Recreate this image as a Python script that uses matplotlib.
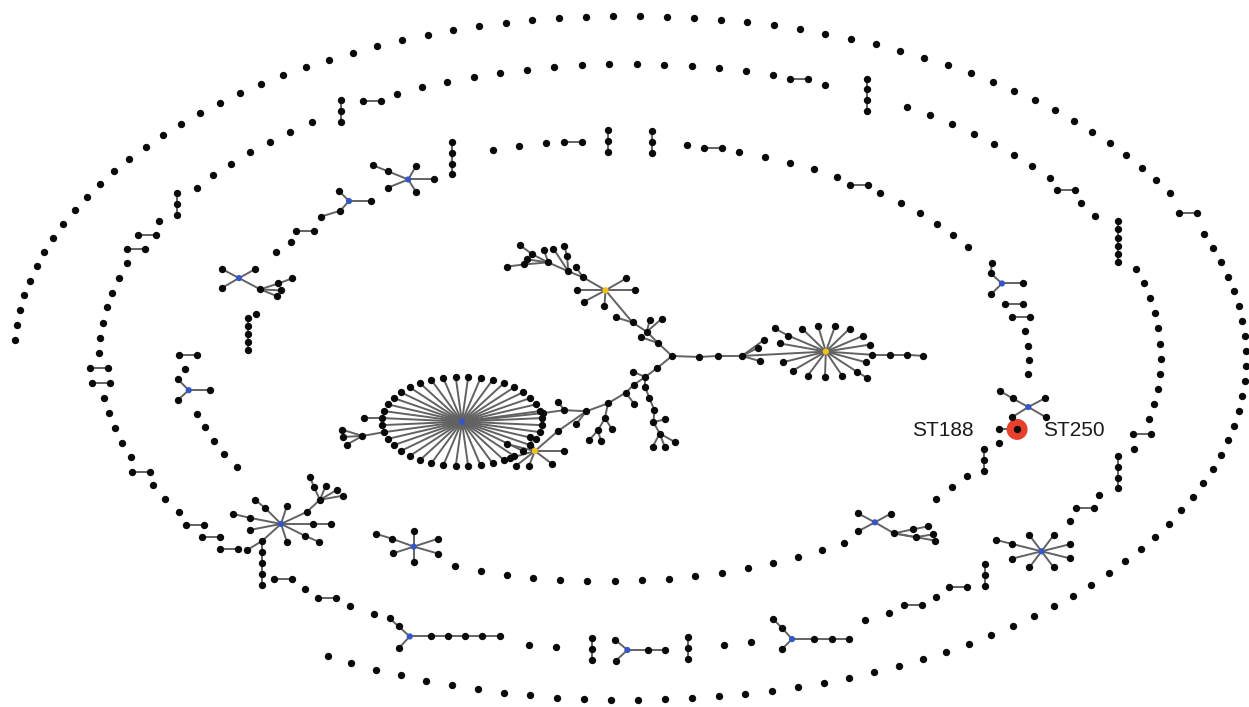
import numpy as np
import matplotlib
matplotlib.use("Agg")
import matplotlib.pyplot as plt
from matplotlib.collections import LineCollection
from matplotlib.patches import Circle

# ---------------------------------------------------------------- data
# Clonal components in clockwise order around each ring.
#   s  = singleton ST          h  = linked pair      hh = linked pair (wide slot)
#   v3..v6 = vertical chain    gap = empty slot      st = highlighted pair
#   si / v5i = component pulled towards the centre
#   other codes = star-shaped complexes (see STAR_SHAPES)
OUTER_RING = ["s"] * 60 + ["hh"] + ["s"] * 57

MIDDLE_RING = (["s"] * 7 + ["h", "h", "s", "v3"] + ["s"] * 7 + ["v3", "h"]
               + ["s"] * 15 + ["h", "s", "v4"] + ["s"] * 8 + ["h", "s", "s", "v6"]
               + ["s"] * 11
               + ["h", "s", "v4", "s", "h", "s", "M1", "v3", "h", "s", "h", "s", "s",
                  "M2", "s", "s", "v3", "M3", "v3", "s", "s", "M4", "s", "s", "h",
                  "s", "h", "gap", "h", "h", "h", "s", "s", "s", "h"]
               + ["s"] * 5 + ["h", "h"])

INNER_RING = (["h", "v5i", "si", "C", "s", "s", "h", "B", "A", "v4", "s", "s", "s",
               "h", "v3", "v3", "s", "h"]
              + ["s"] * 5 + ["h"] + ["s"] * 6 + ["I", "h", "h"] + ["s"] * 4
              + ["HB", "st", "s", "v3", "s", "s", "s", "G"] + ["s"] * 16
              + ["F", "E"] + ["s"] * 5 + ["D", "s"])

PAIR_LABELS = ["ST188", "ST250"]
BIG_HUB_SPOKES = 40

# ---------------------------------------------------------------- layout
RINGS = [
    (OUTER_RING, dict(cx=630, cy=358, a=616, b=342, start=177.0, end=-119.4, closed=False)),
    (MIDDLE_RING, dict(cx=630, cy=357, a=531, b=293, start=179.2, closed=True)),
    (INNER_RING, dict(cx=607, cy=361, a=422, b=220, start=178.4, closed=True,
                      dent=(145.0, 22.0, 0.075))),
]

SLOT = {"s": 1.0, "si": 1.0, "h": 1.0, "hh": 2.0, "v3": 1.6, "v4": 2.3,
        "v5i": 2.5, "v6": 2.8, "gap": 1.8, "st": 1.0}
RADIAL = {"si": 0.86, "v5i": 0.86}
CHAIN = {"v3": (3, 11.0), "v4": (4, 10.8), "v5i": (5, 8.0), "v6": (6, 8.2)}

# arms: (direction in degrees, length in px[, sub-arms])
STAR_SHAPES = {
    "M1": dict(span=(1.7, 1.7), r=1.02, arms=[(166, 30, [(166, 16.5)]), (127, 20), (53, 20), (14, 29),
                                               (-14, 29), (-53, 20), (-127, 20), (-166, 30)]),
    "M2": dict(span=(2.4, 1.0), r=1.01, arms=[(132, 15, [(135, 13)]), (-135, 14),
                                               (0, 22, [(0, 18, [(0, 17)])])]),
    "M3": dict(span=(1.4, 0.5), r=1.0, arms=[(140, 15.6), (-137, 16), (0, 21, [(0, 17)])]),
    "M4": dict(span=(3.7, 1.3), r=1.04, arms=[(138, 15, [(138, 12)]), (-133, 16),
                                               (0, 21, [(0, 17, [(0, 17, [(0, 17, [(0, 18)])])])])]),
    "C": dict(span=(1.9, 1.9), r=0.95, arms=[(152, 19), (29, 18), (-150, 20),
                                             (-28, 24, [(18, 19, [(20, 15)]), (-3, 21), (-22, 18)])]),
    "B": dict(span=(2.3, 1.0), r=0.95, arms=[(135, 14), (0, 22), (-132, 13, [(197, 20)])]),
    "A": dict(span=(1.8, 1.0), r=0.95, arms=[(158, 21.5, [(158, 16)]), (60, 16), (0, 26),
                                             (-158, 21.5), (-58, 15)]),
    "I": dict(span=(2.35, 1.0), r=1.0, arms=[(138, 15, [(84, 10)]), (0, 21), (-135, 15)]),
    "HB": dict(span=(1.8, 1.2), r=1.02, arms=[(151, 18, [(150, 14)]), (28, 19), (-30, 20), (-148, 19)]),
    "G": dict(span=(2.3, 1.3), r=0.97, arms=[(152, 19), (29, 18), (-152, 19),
                                             (-30, 22, [(12, 19, [(11, 16)]), (-10, 22, [(9, 18)]),
                                                        (-10, 42)])]),
    "F": dict(span=(1.5, 1.5), r=0.96, arms=[(160, 23, [(163, 17)]), (90, 16), (18, 26),
                                             (-162, 22), (-90, 15), (-16, 25)]),
    "E": dict(span=(3.3, 3.6), r=1.07, arms=[(135, 22.6, [(141, 13)]), (169, 31.6, [(167, 17.5)]),
                                             (-169, 31.6), (72, 19), (-72, 19), (0, 32, [(0, 18)]),
                                             (-26.6, 27, [(-23, 15)]),
                                             (25, 28.6, [(43, 17.7, [(115, 14, [(112, 11)]), (67, 15),
                                                                     (30, 20), (10, 23)])]),
                                             (-138, 25.5, [(-149, 17.5),
                                                           (-90, 11, [(-90, 11, [(-90, 11, [(-90, 11)])])])])]),
    "D": dict(span=(1.2, 1.0), r=1.0, arms=[(135, 15.6), (-138, 15), (0, 21)]),
}

# central minimum-spanning tree: (node, parent, direction, length, kind)
CENTRAL_ANCHOR = (672, 356)
CENTRAL_TREE = [
    ("J", None, 0, 0, "n"),
    ("r1", "J", -2, 27, "n"), ("r2", "r1", 3, 19, "n"), ("r3", "r2", 0, 24, "n"),
    ("H3", "r3", 3, 84, "y"),
    ("a1", "J", 137, 19, "n"), ("a2", "a1", 135, 16, "n"), ("a3", "a2", 147, 17, "n"),
    ("H2", "a3", 130, 42, "y"),
    ("p0", "J", -141, 19, "n"), ("p1", "p0", -143, 15, "n"), ("p2", "p1", -146, 14, "n"),
    ("p3", "p2", -135, 11, "n"), ("c3", "p3", -149, 21, "n"), ("c4", "c3", -160, 23, "n"),
    ("c5", "c4", 177, 22, "n"), ("c6", "c5", -172, 21, "n"),
    ("BIG", "c6", -174, 82, "b"),
    ("d1", "c4", -145, 35, "n"), ("H1", "d1", -139, 30, "y"),
]
CENTRAL_ARMS = {
    "r3": [(27, 18), (36, 27), (-16, 19)],
    "H3": [(157, 41, [(152, 15)]), (136, 33), (107, 27), (70, 27), (44, 33), (23, 40), (9, 45),
           (-4, 46, [(0, 18, [(0, 17, [(-4, 16)])])]), (-15, 42), (-33, 37, [(-31, 12)]),
           (-56, 29), (-92, 25), (-127, 30), (-150, 38), (-166, 44), (170, 47)],
    "a1": [(161, 18)],
    "a2": [(76, 12), (41, 20)],
    "a3": [(163, 17)],
    "H2": [(30, 24), (0, 29), (180, 29), (-152, 24), (-94, 16),
           (150, 26, [(125, 12),
                      (158, 16, [(94, 15, [(105, 11)]), (123, 27),
                                 (156, 22, [(153, 18, [(143, 15)]), (172, 21), (108, 13),
                                            (-175, 24, [(-173, 17)])])])])],
    "p1": [(157, 13),
           (-90, 10, [(-70, 12, [(-67, 13, [(-95, 12, [(14, 12),
                                                        (-61, 13, [(-118, 15), (-69, 14), (-29, 18)])])])])])],
    "p3": [(-54, 14)],
    "c3": [(-101, 15, [(-120, 14, [(-132, 13), (-75, 11)]), (-58, 13)])],
    "c4": [(-128, 16)],
    "c5": [(127, 10)],
    "H1": [(166, 29), (-164, 26), (-142, 24), (-112, 16), (-37, 21), (0, 29), (110, 15)],
}
BIG_RX, BIG_RY = 80, 45

HUB_COLORS = {"b": "#3556c8", "y": "#f2c21a"}
NODE_COLOR = "#0a0a0a"
EDGE_COLOR = "#626262"

# ---------------------------------------------------------------- build
nodes, hubs, edges = [], [], []
highlight = {}


def polar(x, y, ang, length):
    t = np.deg2rad(ang)
    return x + length * np.cos(t), y - length * np.sin(t)


def grow(x, y, arms):
    for arm in arms:
        ang, length = arm[0], arm[1]
        nx, ny = polar(x, y, ang, length)
        edges.append(((x, y), (nx, ny)))
        nodes.append((nx, ny))
        if len(arm) > 2:
            grow(nx, ny, arm[2])


def ring_thetas(tokens, g):
    centers, cur = [], 0.0
    for t in tokens:
        if t in STAR_SHAPES:
            before, after = STAR_SHAPES[t]["span"]
            centers.append(cur + before)
            cur += before + after
        else:
            w = SLOT[t]
            centers.append(cur + w / 2)
            cur += w
    centers = np.array(centers) - centers[0]
    if g["closed"]:
        return g["start"] - centers * 360.0 / cur
    return g["start"] - centers / centers[-1] * (g["start"] - g["end"])


def radial(g, theta):
    if "dent" not in g:
        return 1.0
    c, w, d = g["dent"]
    th = (theta + 180.0) % 360.0 - 180.0
    return 1.0 - d * np.exp(-((th - c) / w) ** 2)


for tokens, g in RINGS:
    for tok, th in zip(tokens, ring_thetas(tokens, g)):
        if tok in STAR_SHAPES:
            r = STAR_SHAPES[tok]["r"]
        else:
            r = RADIAL.get(tok, radial(g, th))
        t = np.deg2rad(th)
        x = g["cx"] + r * g["a"] * np.cos(t)
        y = g["cy"] - r * g["b"] * np.sin(t)
        if tok in ("s", "si"):
            nodes.append((x, y))
        elif tok in ("h", "hh", "st"):
            p, q = (x - 9.0, y), (x + 9.0, y)
            nodes.extend([p, q])
            edges.append((p, q))
            if tok == "st":
                highlight[PAIR_LABELS[0]] = p
                highlight[PAIR_LABELS[1]] = q
        elif tok in CHAIN:
            n, gap = CHAIN[tok]
            pts = [(x, y + (i - (n - 1) / 2) * gap) for i in range(n)]
            nodes.extend(pts)
            edges.extend(zip(pts[:-1], pts[1:]))
        elif tok in STAR_SHAPES:
            hubs.append((x, y, HUB_COLORS["b"]))
            grow(x, y, STAR_SHAPES[tok]["arms"])

# central tree
pos = {}
for name, parent, ang, length, kind in CENTRAL_TREE:
    if parent is None:
        pos[name] = CENTRAL_ANCHOR
    else:
        px, py = pos[parent]
        pos[name] = polar(px, py, ang, length)
        edges.append(((px, py), pos[name]))
    if kind == "n":
        nodes.append(pos[name])
    else:
        hubs.append((pos[name][0], pos[name][1], HUB_COLORS[kind]))
for name, arms in CENTRAL_ARMS.items():
    grow(pos[name][0], pos[name][1], arms)

# large star: spokes on an ellipse, two of the western spokes carry extra STs
bx, by = pos["BIG"]
for i in range(BIG_HUB_SPOKES):
    t = 2 * np.pi * (i + 0.5) / BIG_HUB_SPOKES
    ex, ey = bx + BIG_RX * np.cos(t), by - BIG_RY * np.sin(t)
    edges.append(((bx, by), (ex, ey)))
    nodes.append((ex, ey))
    deg = np.rad2deg(t)
    if abs(deg - 175.5) < 4.5:
        grow(ex, ey, [(180, 18)])
    if abs(deg - 193.5) < 4.5:
        grow(ex, ey, [(-170, 22, [(163, 21), (-177, 20), (-151, 18)])])

# ---------------------------------------------------------------- draw
fig = plt.figure(figsize=(12.49, 7.07), dpi=100)
ax = fig.add_axes([0, 0, 1, 1])
ax.set_xlim(0, 1249)
ax.set_ylim(707, 0)
ax.axis("off")

ax.add_collection(LineCollection(edges, colors=EDGE_COLOR, linewidths=1.4, zorder=1))

sx, sy = highlight[PAIR_LABELS[1]]
ax.add_patch(Circle((sx, sy), 10.5, facecolor="#e8402c", edgecolor="none", zorder=2))

nx_, ny_ = zip(*nodes)
ax.scatter(nx_, ny_, s=28, c=NODE_COLOR, linewidths=0, zorder=3)
hx, hy, hc = zip(*hubs)
ax.scatter(hx, hy, s=20, c=list(hc), linewidths=0, zorder=4)

lx, ly = highlight[PAIR_LABELS[0]]
ax.text(lx - 25, ly + 1, PAIR_LABELS[0], ha="right", va="center", fontsize=15,
        family=["Liberation Sans", "DejaVu Sans"], color="#1a1a1a")
ax.text(sx + 26, sy + 1, PAIR_LABELS[1], ha="left", va="center", fontsize=15,
        family=["Liberation Sans", "DejaVu Sans"], color="#1a1a1a")

fig.savefig("out.png", dpi=100, facecolor="white")
